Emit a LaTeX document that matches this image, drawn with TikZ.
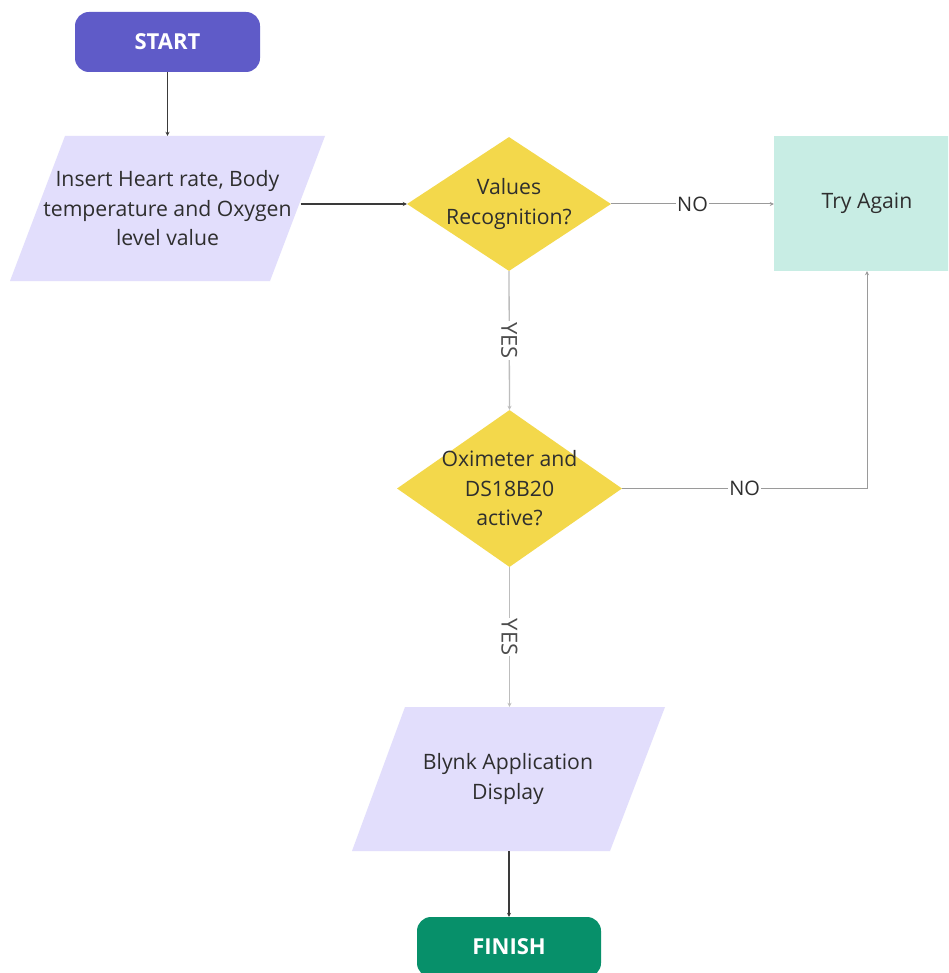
\documentclass[tikz,border=0pt]{standalone}
\usepackage{fontspec}
\setmainfont{Open Sans}
\usetikzlibrary{shapes.geometric,arrows.meta}
\definecolor{startc}{HTML}{5F5BC8}
\definecolor{finishc}{HTML}{07906A}
\definecolor{ioc}{HTML}{E2DEFC}
\definecolor{decc}{HTML}{F3D84B}
\definecolor{retryc}{HTML}{C8EDE4}
\definecolor{txt}{HTML}{2E2E2E}
\definecolor{linec}{HTML}{3A3A3A}
\definecolor{noline}{HTML}{9A9A9A}
\definecolor{yesline}{HTML}{BDBDBD}
\begin{document}
\begin{tikzpicture}[x=1pt,y=-1pt,
  terminal/.style={rectangle, rounded corners=14pt, minimum width=185pt, minimum height=60pt,
    inner sep=0pt, text=white, font=\bfseries\fontsize{22}{24}\selectfont},
  iobox/.style={rectangle, inner sep=0pt, minimum width=260pt, minimum height=145pt},
  decision/.style={diamond, fill=decc, inner sep=0pt, minimum width=204pt, minimum height=134pt},
  body/.style={text=txt, align=center, font=\fontsize{21.2}{29.5}\selectfont},
  arr/.style={-{Stealth[length=4pt,width=4pt]}, draw=linec, line width=1.1pt},
  noarr/.style={-{Stealth[length=4pt,width=4pt]}, draw=noline, line width=1pt},
  yesarr/.style={-{Stealth[length=4pt,width=4pt]}, draw=yesline, line width=1.3pt},
  lbl/.style={fill=white, inner sep=1pt, text=txt, font=\fontsize{20}{22}\selectfont},
  ylbl/.style={fill=white, inner sep=1pt, text=black!70, rotate=-90, font=\fontsize{22}{24}\selectfont}]
\useasboundingbox (0,0) rectangle (948,973);
\fill[white] (0,0) rectangle (948,973);
\clip (0,0) rectangle (948,973);

% input/output parallelograms
\fill[ioc] (10,281) -- (65,136) -- (325,136) -- (270,281) -- cycle;
\fill[ioc] (352,851) -- (405,707) -- (665,707) -- (610,851) -- cycle;

% shapes
\node[terminal, fill=startc] (start) at (167.5,42) {START};
\node[iobox, body] (p1) at (167.5,208.5) {Insert Heart rate, Body\\temperature and Oxygen\\level value};
\node[decision] (d1) at (509,204) {};
\node[body] (d1t) at (d1.center) {Values\\Recognition?};
\node[rectangle, fill=retryc, minimum width=186pt, minimum height=135pt, inner sep=0pt] (retry) at (867,203.5) {};
\node[body] (retryt) at (retry.center) {Try Again};
\node[decision, minimum width=225pt, minimum height=157pt] (d2) at (509.5,488.5) {};
\node[body] (d2t) at (d2.center) {Oximeter and\\DS18B20\\active?};
\node[iobox, body, minimum width=258pt, minimum height=144pt] (p2) at (508,779) {Blynk Application\\Display};
\node[terminal, fill=finishc, minimum width=184pt] (finish) at (509,947) {FINISH};

% connectors
\draw[arr] (start.south) -- (start.south |- p1.north);
\draw[arr] ([xshift=3pt]d1.west -| p1.east) -- (d1.west);
\draw[noarr] (d1.east) -- node[lbl] {NO} (d1.east -| retry.west);
\draw[yesarr] (d1.south) -- node[ylbl] {YES} (d2.north);
\draw[noarr] (d2.east) -| node[lbl, pos=0.25] {NO} (retry.south);
\draw[yesarr] (d2.south) -- node[ylbl] {YES} (d2.south |- p2.north);
\draw[arr] (finish.north |- p2.south) -- (finish.north);
\end{tikzpicture}
\end{document}
